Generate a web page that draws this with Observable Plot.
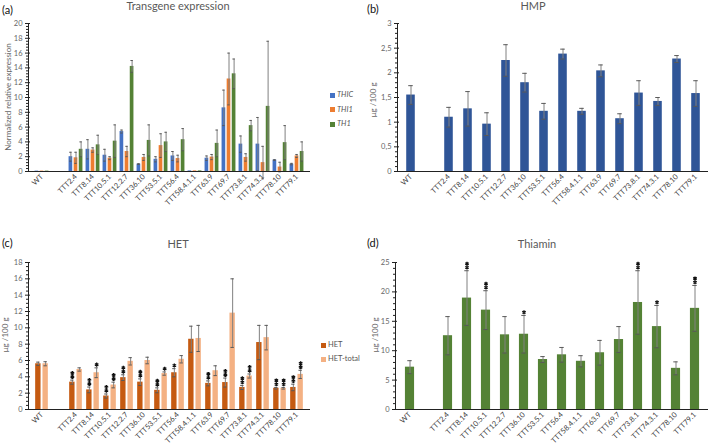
<!DOCTYPE html>
<html><head><meta charset="utf-8">
<script src="https://cdn.jsdelivr.net/npm/d3@7"></script>
<script src="https://cdn.jsdelivr.net/npm/@observablehq/plot@0.6"></script>
<style>
html,body{margin:0;padding:0;background:#fff;}
#root{position:relative;width:709px;height:446px;overflow:hidden;font-family:Lato,"Open Sans",sans-serif;}
.lbl{position:absolute;white-space:nowrap;line-height:1;}
.pn{position:absolute;}
</style></head>
<body><div id="root"></div>
<script>
// ---------- data ----------
const cats = ["WT","TTT2.4","TTT8.14","TTT10.5.1","TTT12.2.7","TTT36.10","TTT53.5.1","TTT56.4","TTT58.4.1.1","TTT63.9","TTT69.7","TTT73.8.1","TTT74.3.1","TTT78.10","TTT79.1"];
const xDomain = ["WT", " ", ...cats.slice(1)];

// (a) Transgene expression
const thicVals = [0.05,2.0,3.0,2.2,5.4,1.0,1.65,2.1,0.08,1.8,8.6,3.7,3.7,1.55,1.0];
const thicErr  = [0,0.6,1.3,0.8,0.2,0.05,0.35,0.6,0,0.3,2.4,1.1,3.6,0.05,0.1];
const thi1Vals = [0.05,1.85,2.9,1.8,2.7,1.9,3.5,1.75,0.08,1.95,12.5,1.9,1.2,0.6,2.1];
const thi1Err  = [0,0.75,0.3,0.2,0.7,0.4,1.6,0.45,0,0.35,3.5,0.5,2.2,0.65,0.2];
const th1Vals  = [0.05,3.0,3.6,4.1,14.2,4.2,4.0,4.3,0.08,3.8,13.2,6.2,8.8,3.9,2.7];
const th1Err   = [0,1.0,1.3,2.2,0.8,2.1,1.3,1.5,0,1.8,2.0,0.7,8.8,2.3,1.3];
const ticksA = [0,2,4,6,8,10,12,14,16,18,20];

// (b) HMP
const hmpVals = [1.55,1.10,1.27,0.96,2.25,1.80,1.22,2.38,1.22,2.04,1.07,1.59,1.42,2.28,1.58];
const hmpErr  = [0.19,0.20,0.35,0.23,0.32,0.19,0.16,0.10,0.06,0.12,0.10,0.25,0.08,0.07,0.26];
const ticksB = [0,0.5,1,1.5,2,2.5,3];

// (c) HET
const hetVals = [5.6,3.35,2.4,1.65,3.9,3.35,2.35,4.5,8.6,3.2,3.3,2.7,8.2,2.6,2.7];
const hetErr  = [0.2,0.25,0.35,0.25,0.35,0.4,0.3,0.5,1.6,0.3,0.55,0.25,2.1,0.1,0.4];
const hetSig  = ["","**","**","**","**","**","**","*","","**","**","**","","**","**"];
const hetTotVals = [5.6,4.9,4.5,3.0,5.9,6.0,4.4,6.15,8.7,4.75,11.8,4.1,8.8,2.6,4.3];
const hetTotErr  = [0.25,0.2,0.6,0.35,0.45,0.4,0.2,0.45,1.6,0.6,4.2,0.25,1.5,0.1,0.5];
const hetTotSig  = ["","","*","**","","","*","","","","","**","","**","**"];
const ticksC = [0,2,4,6,8,10,12,14,16,18];

// (d) Thiamin
const thiVals = [7.2,12.55,18.95,16.9,12.7,12.8,8.5,9.3,8.2,9.65,11.9,18.2,14.1,7.0,17.2];
const thiErr  = [1.1,3.25,4.65,3.3,3.1,3.2,0.5,1.25,0.95,2.1,2.2,5.4,3.6,1.1,3.9];
const thiSig  = ["","","**","**","","*","","","","","","**","*","","**"];
const ticksD = [0,5,10,15,20,25];

// ---------- drawing ----------
const root = document.getElementById("root");
function label(text, x, y, css, anchor="center", rot=false){
  const d = document.createElement("div");
  d.className = "lbl"; d.textContent = text;
  d.style.left = x+"px"; d.style.top = y+"px";
  const tx = anchor==="left" ? "0" : "-50%";
  d.style.transform = `translate(${tx},-50%)` + (rot ? " rotate(-90deg)" : "");
  Object.assign(d.style, css||{});
  root.appendChild(d);
}
function minorTicks(t, n){
  const out=[];
  for(let i=0;i<t.length-1;i++){const s=(t[i+1]-t[i])/n; for(let k=1;k<n;k++) out.push(t[i]+k*s);}
  return out;
}
function panel(o){
  const {left, top, width, height, mt, mb, ml, mr, series, ticks, nMinor, fmt, barW, offsets, capW} = o;
  const band = (width-ml-mr)/xDomain.length;
  const inset = (band-barW)/2, capInset=(band-capW)/2;
  const marks = [];
  series.forEach((s,i)=>{
    const rows = cats.map((c,j)=>({cat:c, v:s.values[j], e:s.errs[j], sig:s.sig?s.sig[j]:""}));
    const er = rows.filter(d=>d.e>0);
    const dx = offsets[i];
    marks.push(Plot.barY(rows,{x:"cat", y:"v", fill:s.color, insetLeft:inset, insetRight:inset, dx}));
    marks.push(Plot.ruleX(er,{x:"cat", y1:d=>d.v-d.e, y2:d=>d.v+d.e, stroke:"#808080", strokeWidth:1, dx}));
    marks.push(Plot.tickY(er,{x:"cat", y:d=>d.v+d.e, stroke:"#595959", insetLeft:capInset, insetRight:capInset, dx}));
    marks.push(Plot.tickY(er,{x:"cat", y:d=>d.v-d.e, stroke:"#595959", insetLeft:capInset, insetRight:capInset, dx}));
    // significance asterisks, stacked vertically above the error bar
    [0,1].forEach(k=>{
      const sg = rows.filter(d=>d.sig.length>k);
      if(sg.length) marks.push(Plot.dot(sg,{x:"cat", y:d=>d.v+d.e, symbol:"asterisk", r:1.9, stroke:"#111", strokeWidth:1.3, dx, dy:-3.2-3.8*k}));
    });
  });
  marks.push(Plot.ruleY([0],{stroke:"#222", strokeWidth:1}));
  marks.push(Plot.frame({anchor:"left", stroke:"#222"}));
  marks.push(Plot.axisY({ticks, tickSize:3, tickPadding:3, tickFormat:fmt, fill:"#666", stroke:"#222", fontSize:7.5, label:null}));
  marks.push(Plot.axisY({ticks, tickSize:-2, tickFormat:()=>"", stroke:"#222", label:null}));
  marks.push(Plot.axisY({ticks:minorTicks(ticks,nMinor), tickSize:2, tickFormat:()=>"", stroke:"#222", label:null}));
  marks.push(Plot.axisX({tickRotate:-45, tickSize:0, tickPadding:4, fill:"#404040", fontSize:7.5, label:null}));
  const svg = Plot.plot({
    width, height, marginTop:mt, marginBottom:mb, marginLeft:ml, marginRight:mr,
    x:{domain:xDomain, padding:0, axis:null, label:null},
    y:{domain:[ticks[0], ticks[ticks.length-1]], axis:null, label:null},
    style:{fontFamily:"Lato, 'Open Sans', sans-serif", background:"transparent", overflow:"visible"},
    marks
  });
  const wrap = document.createElement("div");
  wrap.className="pn"; wrap.style.left=left+"px"; wrap.style.top=top+"px";
  wrap.appendChild(svg); root.appendChild(wrap);
}

const green = "#548235";
panel({left:0, top:0, width:355, height:223, mt:23, mb:52, ml:28, mr:45,
  series:[{values:thicVals, errs:thicErr, color:"#4472C4"},{values:thi1Vals, errs:thi1Err, color:"#ED7D31"},{values:th1Vals, errs:th1Err, color:green}],
  ticks:ticksA, nMinor:5, fmt:d=>String(d), barW:4.3, offsets:[-5.1,0,5.1], capW:3});
panel({left:355, top:0, width:354, height:223, mt:23, mb:52, ml:42, mr:1,
  series:[{values:hmpVals, errs:hmpErr, color:"#2F5597"}],
  ticks:ticksB, nMinor:5, fmt:d=>String(d).replace(".",","), barW:9, offsets:[0], capW:5});
panel({left:0, top:223, width:355, height:223, mt:39, mb:37, ml:28, mr:45,
  series:[{values:hetVals, errs:hetErr, sig:hetSig, color:"#C55A11"},{values:hetTotVals, errs:hetTotErr, sig:hetTotSig, color:"#F4B183"}],
  ticks:ticksC, nMinor:4, fmt:d=>String(d), barW:6, offsets:[-3.65,3.65], capW:4});
panel({left:355, top:223, width:354, height:223, mt:39, mb:37, ml:40, mr:1,
  series:[{values:thiVals, errs:thiErr, sig:thiSig, color:green}],
  ticks:ticksD, nMinor:5, fmt:d=>String(d), barW:9.7, offsets:[0], capW:5});

// titles and labels
const T = {fontSize:"11px", color:"#595959"};
const P = {fontSize:"11px", color:"#111"};
const Y = {fontSize:"8px", color:"#666"};
label("(a)", 2, 9, P, "left");
label("Transgene expression", 178, 5, T);
label("(b)", 367, 8, P, "left");
label("HMP", 533, 5, T);
label("(c)", 2, 242, P, "left");
label("HET", 178, 243, T);
label("(d)", 367, 242, P, "left");
label("Thiamin", 537, 243, T);
label("Normalized relative expression", 8, 97, Y, "center", true);
label("µg /100 g", 373, 100, Y, "center", true);
label("µg /100 g", 5, 335, Y, "center", true);
label("µg /100 g", 375, 335, Y, "center", true);

// legends
function legend(items, x, y0, step, italic){
  items.forEach((it,i)=>{
    const y = y0 + i*step;
    const sq = document.createElement("div");
    sq.style.cssText = `position:absolute;left:${x}px;top:${y-2.5}px;width:5px;height:5px;background:${it[1]};`;
    root.appendChild(sq);
    label(it[0], x+7, y, {fontSize:"7.5px", color:"#555", fontStyle: italic?"italic":"normal"}, "left");
  });
}
legend([["THIC","#4472C4"],["THI1","#ED7D31"],["TH1",green]], 330, 95, 14.5, true);
legend([["HET","#C55A11"],["HET-total","#F4B183"]], 321, 345, 14, false);
</script></body></html>
